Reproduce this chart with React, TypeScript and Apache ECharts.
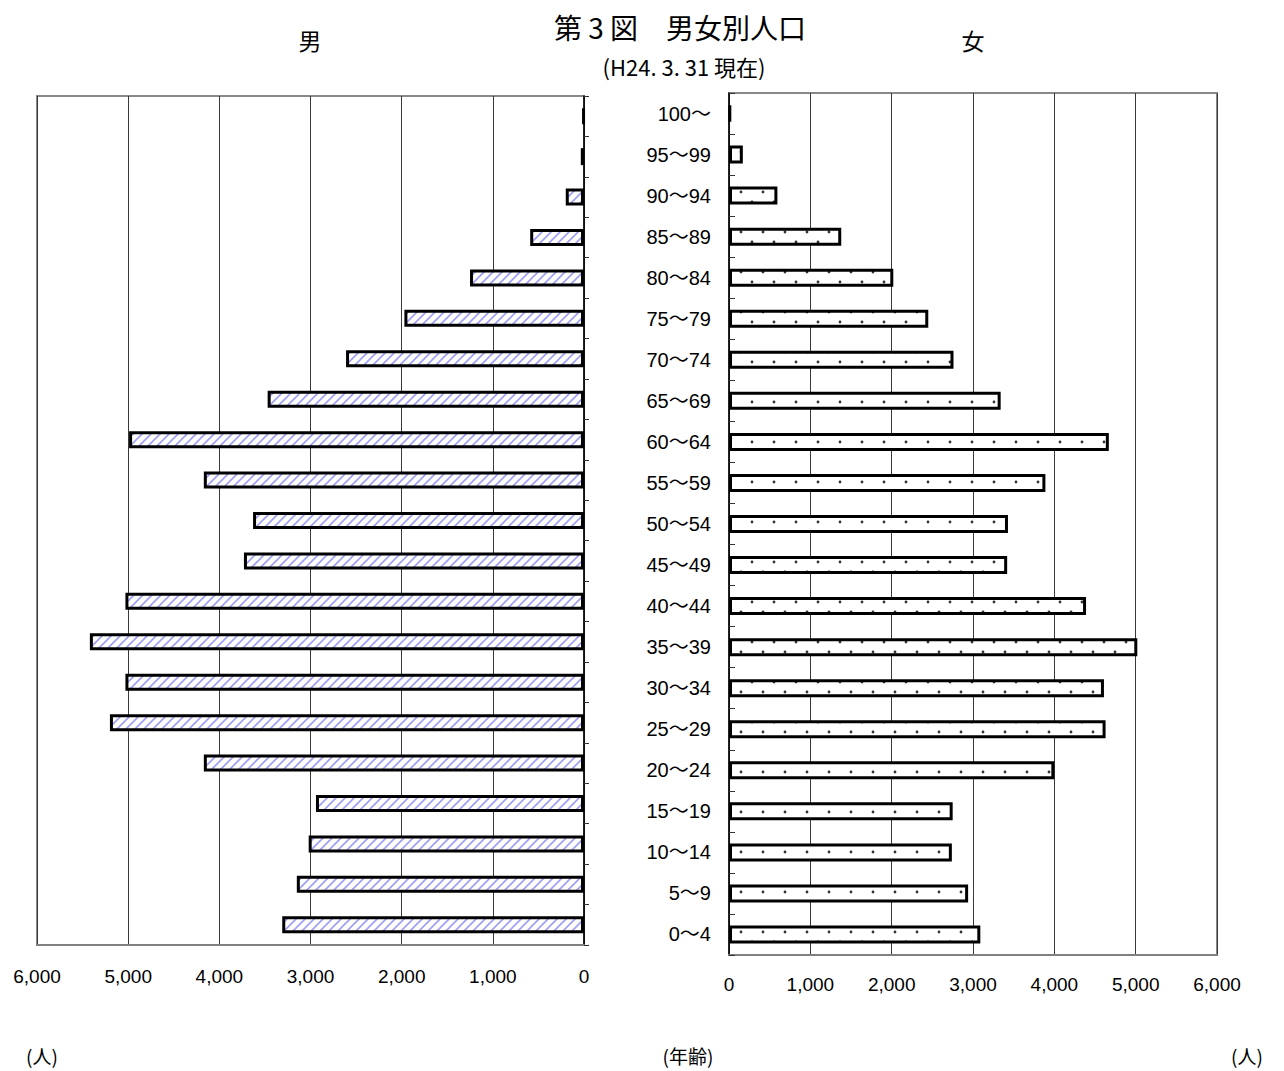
import React, { useEffect, useRef } from "react";
import * as echarts from "echarts";

// Age groups, bottom to top
const ages = [
  "0～4", "5～9", "10～14", "15～19", "20～24", "25～29", "30～34", "35～39",
  "40～44", "45～49", "50～54", "55～59", "60～64", "65～69", "70～74",
  "75～79", "80～84", "85～89", "90～94", "95～99", "100～",
];

// Population by age group (persons)
const male = [
  3310, 3150, 3020, 2940, 4170, 5200, 5030, 5420, 5030, 3730, 3630,
  4170, 4990, 3470, 2610, 1970, 1250, 590, 200, 35, 10,
];
const female = [
  3090, 2940, 2740, 2750, 4000, 4630, 4610, 5020, 4390, 3420, 3430,
  3890, 4670, 3340, 2760, 2450, 2020, 1380, 595, 170, 20,
];

const axisMin = 0;
const axisMax = 6000;
const axisStep = 1000;

const sansCJK = '"Noto Sans CJK JP", sans-serif';
const labelFont = '"Liberation Sans", Arial, "Noto Sans CJK JP", sans-serif';
const tickFont = '"Liberation Sans", Arial, sans-serif';

function hatchTile(): HTMLCanvasElement {
  const size = 9;
  const c = document.createElement("canvas");
  c.width = size;
  c.height = size;
  const g = c.getContext("2d")!;
  g.fillStyle = "#ffffff";
  g.fillRect(0, 0, size, size);
  g.strokeStyle = "#a0a0f6";
  g.lineWidth = 1.7;
  g.beginPath();
  g.moveTo(-1, size + 1);
  g.lineTo(size + 1, -1);
  g.moveTo(-1, 1);
  g.lineTo(1, -1);
  g.moveTo(size - 1, size + 1);
  g.lineTo(size + 1, size - 1);
  g.stroke();
  return c;
}

function dotTile(): HTMLCanvasElement {
  const w = 22;
  const h = 20;
  const c = document.createElement("canvas");
  c.width = w;
  c.height = h;
  const g = c.getContext("2d")!;
  g.fillStyle = "#ffffff";
  g.fillRect(0, 0, w, h);
  g.fillStyle = "#333333";
  g.beginPath();
  g.arc(4, 2, 1.4, 0, Math.PI * 2);
  g.arc(15, 12, 1.4, 0, Math.PI * 2);
  g.fill();
  return c;
}

const fmt = (v: number) => v.toLocaleString("en-US");

export default function App() {
  const ref = useRef<HTMLDivElement>(null);

  useEffect(() => {
    if (!ref.current) return;
    const chart = echarts.init(ref.current, null, { renderer: "svg" });

    const hatch = { image: hatchTile(), repeat: "repeat", imageWidth: 9, imageHeight: 9 };
    const dots = { image: dotTile(), repeat: "repeat", imageWidth: 22, imageHeight: 20 };

    const valueAxisBase = {
      type: "value",
      min: axisMin,
      max: axisMax,
      interval: axisStep,
      position: "bottom",
      axisLine: { show: true, lineStyle: { color: "#808080", width: 2 } },
      axisTick: { show: false },
      splitLine: { show: true, lineStyle: { color: "#3a3a3a", width: 1 } },
      axisLabel: {
        formatter: fmt,
        color: "#000",
        fontSize: 19,
        fontFamily: tickFont,
      },
    };

    chart.setOption({
      animation: false,
      backgroundColor: "#ffffff",
      grid: [
        { left: 37, top: 96, width: 547, height: 849, show: true, borderColor: "#888", borderWidth: 2 },
        { left: 729, top: 93, width: 488, height: 862, show: true, borderColor: "#888", borderWidth: 2 },
      ],
      xAxis: [
        { ...valueAxisBase, gridIndex: 0, inverse: true, axisLabel: { ...valueAxisBase.axisLabel, margin: 22 } },
        { ...valueAxisBase, gridIndex: 1, inverse: false, axisLabel: { ...valueAxisBase.axisLabel, margin: 20 } },
      ],
      yAxis: [
        {
          gridIndex: 0,
          type: "category",
          data: ages,
          position: "right",
          axisLine: { show: true, lineStyle: { color: "#000", width: 1.5 } },
          axisTick: { show: true, inside: false, length: 5, lineStyle: { color: "#333", width: 1 } },
          axisLabel: { show: false },
          splitLine: { show: false },
        },
        {
          gridIndex: 1,
          type: "category",
          data: ages,
          position: "left",
          axisLine: { show: true, lineStyle: { color: "#000", width: 1.5 } },
          axisTick: { show: true, inside: true, length: 6, lineStyle: { color: "#333", width: 1 } },
          axisLabel: { show: true, margin: 18, color: "#000", fontSize: 20, fontFamily: labelFont },
          splitLine: { show: false },
        },
      ],
      series: [
        {
          name: "男",
          type: "bar",
          xAxisIndex: 0,
          yAxisIndex: 0,
          data: male,
          barWidth: 17,
          itemStyle: { color: hatch, borderColor: "#000", borderWidth: 3 },
        },
        {
          name: "女",
          type: "bar",
          xAxisIndex: 1,
          yAxisIndex: 1,
          data: female,
          barWidth: 18,
          itemStyle: { color: dots, borderColor: "#000", borderWidth: 3 },
        },
      ],
      graphic: [
        {
          type: "text",
          x: 680,
          y: 27,
          style: { text: "第 3 図　男女別人口", fontSize: 28, fontFamily: sansCJK, fill: "#000", align: "center", verticalAlign: "middle" },
        },
        {
          type: "text",
          x: 684,
          y: 66,
          style: { text: "(H24. 3. 31 現在)", fontSize: 22, fontFamily: sansCJK, fill: "#000", align: "center", verticalAlign: "middle" },
        },
        {
          type: "text",
          x: 310,
          y: 40,
          style: { text: "男", fontSize: 23, fontFamily: sansCJK, fill: "#000", align: "center", verticalAlign: "middle" },
        },
        {
          type: "text",
          x: 973,
          y: 40,
          style: { text: "女", fontSize: 23, fontFamily: sansCJK, fill: "#000", align: "center", verticalAlign: "middle" },
        },
        {
          type: "text",
          x: 42,
          y: 1055,
          style: { text: "(人)", fontSize: 19, fontFamily: sansCJK, fill: "#000", align: "center", verticalAlign: "middle" },
        },
        {
          type: "text",
          x: 688,
          y: 1055,
          style: { text: "(年齢)", fontSize: 19, fontFamily: sansCJK, fill: "#000", align: "center", verticalAlign: "middle" },
        },
        {
          type: "text",
          x: 1247,
          y: 1055,
          style: { text: "(人)", fontSize: 19, fontFamily: sansCJK, fill: "#000", align: "center", verticalAlign: "middle" },
        },
      ],
    });

    return () => chart.dispose();
  }, []);

  return (
    <div
      ref={ref}
      style={{ position: "absolute", left: 0, top: 0, width: 1284, height: 1071, background: "#fff" }}
    />
  );
}
